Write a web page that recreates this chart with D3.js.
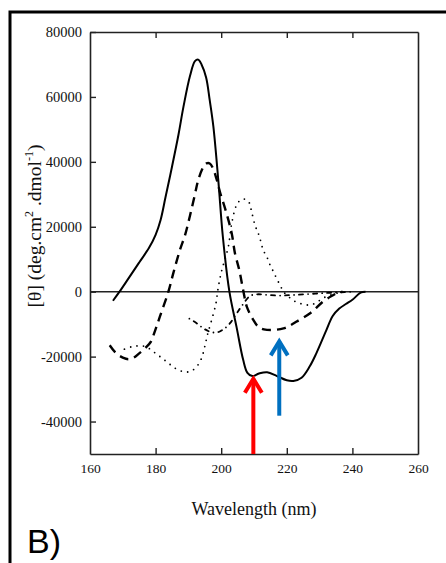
<!DOCTYPE html>
<html>
<head>
<meta charset="utf-8">
<script src="https://cdn.jsdelivr.net/npm/d3@7"></script>
<style>
  body { margin: 0; background: #fff; }
  svg { display: block; }
</style>
</head>
<body>
<svg id="chart"></svg>
<script>
// wavelength (nm) / molar ellipticity
var solid = [[167,-2800],[169,0],[172,4500],[175,9000],[178,13500],[180,17500],[181.5,22000],[183,29000],[185,38500],[187,48500],
  [188.5,57000],[190.5,66500],[192,71000],[193,71500],[194,70000],[195.4,66000],[196.5,59000],[197.6,51000],[199.1,34500],
  [200.5,17000],[202.5,0],[204.7,-11000],[206.7,-21000],[208,-25000],[209.5,-26000],[211.5,-25200],[214,-24800],[217,-26000],
  [220,-27300],[222,-27500],[224.5,-26500],[227,-23000],[229,-19000],[232,-12000],[234,-7500],[236,-5200],[238,-3800],
  [240,-2500],[242.5,-300],[244,0]];

var dashed = [[166,-16500],[168,-19000],[170,-20300],[171.7,-20800],[173.2,-20400],[175,-19000],[177,-17200],[178.5,-15500],
  [179.5,-13000],[181.3,-7700],[183.9,0],[185.4,5700],[187.4,12800],[189,17500],[190.5,23500],[192,30000],[193,34400],
  [194.6,38500],[195.5,39500],[196.5,39500],[197.5,38000],[198.5,35000],[199.6,30800],[201.6,24200],[203.2,18000],
  [204.2,11800],[205.5,6700],[206.5,1500],[206.8,0],[207.8,-4600],[209.8,-8700],[211.3,-10800],[213,-11600],[215.9,-11800],
  [219,-11300],[221,-10400],[223,-9200],[227,-6700],[231,-3100],[233.5,-1400],[235.2,-500],[237,0]];

var dotted = [[170.5,-17700],[173,-16900],[176,-16700],[178,-17500],[180,-19000],[182,-20500],[184,-22100],[186,-23600],
  [188.4,-24600],[190.5,-24600],[192.5,-23100],[194,-20500],[195.1,-16400],[195.8,-13300],[197.1,-8700],[198.4,-3600],
  [198.9,0],[199.5,3500],[200.2,6700],[201,9500],[202.2,14000],[203.2,21000],[204.7,26700],[206.2,28500],[207.5,28400],
  [208.5,27500],[209.2,25000],[210.3,20500],[211.3,18000],[212.1,15400],[212.8,12800],[213.9,10800],[214.9,8200],
  [215.9,6200],[216.9,4100],[218.2,1500],[219,0],[220.5,-1500],[222,-2700],[224,-3600],[226.5,-4100],[228.6,-3600],
  [231,-2000],[234,-800],[237,0]];

var dashdot = [[190.3,-8300],[192.5,-9700],[194.6,-11300],[196.5,-12300],[198.5,-12600],[200,-12000],[201.2,-11200],
  [202.7,-9700],[204.7,-6700],[206.7,-3800],[208.8,-1300],[211,-800],[214,-1000],[218,-1200],[222,-1000],[227,-700],
  [232,-400],[236,-200],[240,0]];

var xTicks = [160, 180, 200, 220, 240, 260];
var yTicks = [-40000, -20000, 0, 20000, 40000, 60000, 80000];

// annotation arrows: [wavelength, from, to]
var redArrow = [209.8, -50000, -26200];
var blueArrow = [217.7, -38200, -14700];

var width = 446, height = 563;
var svg = d3.select('#chart').attr('width', width).attr('height', height);

var x = d3.scaleLinear().domain([160, 260]).range([90, 418]);
var y = d3.scaleLinear().domain([-50000, 80000]).range([454, 32]);

// outer frame
svg.append('rect')
  .attr('x', 10).attr('y', 12)
  .attr('width', 500).attr('height', 600)
  .attr('fill', 'none').attr('stroke', '#000').attr('stroke-width', 3);

var axisColor = '#222';

// bottom axis
var xAxis = svg.append('g')
  .attr('transform', 'translate(0,' + y(-50000) + ')')
  .call(d3.axisBottom(x).tickValues(xTicks).tickSizeInner(-6).tickSizeOuter(0).tickPadding(9));
xAxis.selectAll('.tick').filter(function(d) { return d == 160 || d == 260; }).select('line').remove();

// top axis, ticks only
var xTop = svg.append('g')
  .attr('transform', 'translate(0,' + y(80000) + ')')
  .call(d3.axisTop(x).tickValues(xTicks.slice(1, 5)).tickSizeInner(-6).tickSizeOuter(0).tickFormat(''));

// left axis
var yAxis = svg.append('g')
  .attr('transform', 'translate(' + x(160) + ',0)')
  .call(d3.axisLeft(y).tickValues(yTicks).tickSizeInner(-6).tickSizeOuter(0).tickPadding(8)
    .tickFormat(function(d) { return String(d); }));

// right axis, plain line
var yRight = svg.append('g')
  .attr('transform', 'translate(' + x(260) + ',0)')
  .call(d3.axisRight(y).tickValues([]).tickSizeOuter(0));

svg.selectAll('.domain').attr('stroke', axisColor).attr('stroke-width', 1.6);
svg.selectAll('.tick line').attr('stroke', axisColor).attr('stroke-width', 1.4);
xAxis.selectAll('text').attr('font-family', 'Liberation Serif').attr('font-size', 13.5).attr('fill', '#111');
yAxis.selectAll('text').attr('font-family', 'Liberation Serif').attr('font-size', 14.5).attr('fill', '#111');

// zero line
svg.append('line')
  .attr('x1', x(160)).attr('x2', x(260))
  .attr('y1', y(0)).attr('y2', y(0))
  .attr('stroke', axisColor).attr('stroke-width', 1.6);

var line = d3.line()
  .x(function(d) { return x(d[0]); })
  .y(function(d) { return y(d[1]); })
  .curve(d3.curveCatmullRom.alpha(0.5));

svg.append('path').datum(solid)
  .attr('d', line).attr('fill', 'none').attr('stroke', '#000').attr('stroke-width', 2);

svg.append('path').datum(dashed)
  .attr('d', line).attr('fill', 'none').attr('stroke', '#000').attr('stroke-width', 2.4)
  .attr('stroke-dasharray', '9,6');

svg.append('path').datum(dotted)
  .attr('d', line).attr('fill', 'none').attr('stroke', '#000').attr('stroke-width', 1.8)
  .attr('stroke-linecap', 'round').attr('stroke-dasharray', '0,6.5');

svg.append('path').datum(dashdot)
  .attr('d', line).attr('fill', 'none').attr('stroke', '#000').attr('stroke-width', 1.8)
  .attr('stroke-linecap', 'round').attr('stroke-dasharray', '0,5,4,5');

// arrows
function arrow(a, color) {
  var ax = x(a[0]), y0 = y(a[1]), y1 = y(a[2]);
  svg.append('line')
    .attr('x1', ax).attr('x2', ax).attr('y1', y0).attr('y2', y1 + 2)
    .attr('stroke', color).attr('stroke-width', 4);
  svg.append('path')
    .attr('d', 'M' + (ax - 8.5) + ',' + (y1 + 16) + 'L' + ax + ',' + (y1 + 2) + 'L' + (ax + 8.5) + ',' + (y1 + 16))
    .attr('fill', 'none').attr('stroke', color).attr('stroke-width', 4).attr('stroke-linejoin', 'miter');
}
arrow(redArrow, '#ff0000');
arrow(blueArrow, '#0070c0');

// axis titles
svg.append('text')
  .attr('x', (x(160) + x(260)) / 2).attr('y', 515)
  .attr('text-anchor', 'middle')
  .attr('font-family', 'Liberation Serif').attr('font-size', 18).attr('fill', '#111')
  .text('Wavelength (nm)');

var yt = svg.append('text')
  .attr('transform', 'translate(41,226) rotate(-90)')
  .attr('text-anchor', 'middle')
  .attr('font-family', 'Liberation Serif').attr('font-size', 19.5).attr('fill', '#111');
yt.append('tspan').text('[θ] (deg.cm');
yt.append('tspan').attr('font-size', 12).attr('dy', -8).text('2');
yt.append('tspan').attr('dy', 8).text(' .dmol');
yt.append('tspan').attr('font-size', 12).attr('dy', -8).text('-1');
yt.append('tspan').attr('dy', 8).text(')');

svg.append('text')
  .attr('x', 27).attr('y', 553)
  .attr('font-family', 'Liberation Sans').attr('font-size', 34).attr('fill', '#000')
  .text('B)');
</script>
</body>
</html>
